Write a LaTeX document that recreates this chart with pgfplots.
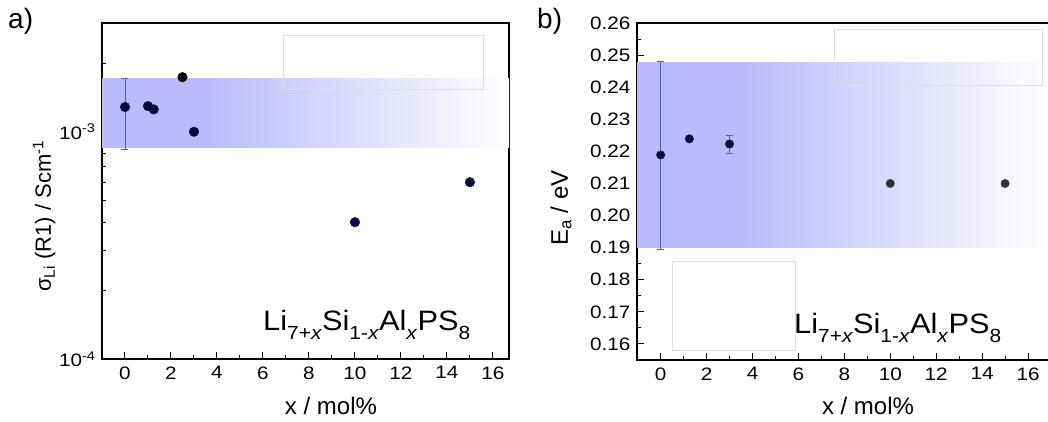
\documentclass[border=0pt]{standalone}
\usepackage{fontspec}
\setmainfont{Liberation Sans}
\newfontfamily\widefont{Liberation Sans}[FakeStretch=1.15]
\newfontfamily\compfont{Liberation Sans}[FakeStretch=1.1]
\usepackage{pgfplots}
\pgfplotsset{compat=1.18}
\definecolor{bandblue}{RGB}{186,186,252}
\definecolor{navy}{RGB}{8,8,60}
\definecolor{errc}{RGB}{90,90,170}
\definecolor{boxgray}{RGB}{222,222,222}
\definecolor{darkgray}{RGB}{50,50,62}
\pgfdeclarehorizontalshading{bandshade}{100bp}{color(0bp)=(bandblue); color(25bp)=(bandblue); color(37bp)=(bandblue); color(75bp)=(white); color(100bp)=(white)}
\newcommand\sub[1]{\raisebox{-9pt}{\fontsize{19}{19}\selectfont #1}}
\pgfplotsset{mystyle/.style={
  scale only axis,
  axis line style={line width=1.4pt},
  tick align=inside, tick pos=left,
  major tick length=7pt, minor tick length=4pt,
  every tick/.append style={black, line width=1pt},
  tick label style={font=\fontsize{18}{18}\widefont},
  /pgf/number format/assume math mode=true,
  xtick={0,2,...,16}, minor xtick={1,3,...,15},
  xticklabel style={yshift=-4pt},
  yticklabel style={xshift=-3pt},
}}
\begin{document}
\begin{tikzpicture}[x=1pt,y=1pt]
\useasboundingbox (0,0) rectangle (1048,-421);
\clip (0,0) rectangle (1048,-421);
% ---------------- panel a
\begin{axis}[mystyle, at={(102pt,-359pt)}, anchor=south west,
  width=407pt, height=336pt,
  xmin=-1, xmax=16.7,
  ymode=log, ymin=1e-4, ymax=3.01e-3,
  ytick={1e-4,1e-3}, yticklabels={10\textsuperscript{-4},10\textsuperscript{-3}},
  minor ytick={2e-4,3e-4,4e-4,5e-4,6e-4,7e-4,8e-4,9e-4,2e-3,3e-3}]
\addplot[draw=none, shading=bandshade] coordinates {(-1,8.56e-4) (16.7,8.56e-4) (16.7,1.714e-3) (-1,1.714e-3)} -- cycle;
\addplot[navy, only marks, mark=*, mark size=4.8pt,
  error bars/.cd, y dir=both, y explicit,
  error bar style={errc, line width=0.8pt},
  error mark options={errc, rotate=90, mark size=3.5pt, line width=0.8pt}]
  coordinates {(0,1.285e-3) += (0,0.435e-3) -= (0,0.445e-3)};
\addplot[navy, only marks, mark=*, mark size=4.8pt] coordinates {(1,1.297e-3) (1.25,1.254e-3) (3,1.0e-3) (10,4.0e-4) (15,6.0e-4)};
\addplot[black, only marks, mark=*, mark size=4.8pt] coordinates {(2.5,1.739e-3)};
\end{axis}
% ---------------- panel b
\begin{axis}[mystyle, at={(637pt,-360pt)}, anchor=south west,
  width=414pt, height=337pt,
  xmin=-1.03, xmax=17,
  ymin=0.155, ymax=0.26,
  ytick={0.16,0.17,...,0.26}, minor ytick={0.165,0.175,...,0.255},
  yticklabel style={/pgf/number format/.cd, fixed, fixed zerofill, precision=2}]
\addplot[draw=none, shading=bandshade] coordinates {(-1.03,0.19) (17,0.19) (17,0.2476) (-1.03,0.2476)} -- cycle;
\addplot[navy, only marks, mark=*, mark size=4.2pt,
  error bars/.cd, y dir=both, y explicit,
  error bar style={errc, line width=0.8pt},
  error mark options={errc, rotate=90, mark size=3.5pt, line width=0.8pt}]
  coordinates {(0,0.2189) += (0,0.0291) -= (0,0.0293) (3,0.2223) += (0,0.0028) -= (0,0.0028)};
\addplot[navy, only marks, mark=*, mark size=4.2pt] coordinates {(1.25,0.2239)};
\addplot[darkgray, only marks, mark=*, mark size=4.2pt] coordinates {(10,0.21) (15,0.21)};
\end{axis}
% empty frames
\draw[boxgray, line width=0.6pt] (283.7,-35.3) rectangle (483.7,-89);
\draw[boxgray, line width=0.6pt] (834,-29.3) rectangle (1042.7,-85);
\draw[boxgray, line width=0.6pt] (672,-261.7) rectangle (795.7,-350);
% texts
\node[anchor=base west, inner sep=0pt, font=\fontsize{28}{28}\compfont] at (263,-330) {Li\sub{7+\textit{x}}Si\sub{1-\textit{x}}Al\sub{\textit{x}}PS\sub{8}};
\node[anchor=base west, inner sep=0pt, font=\fontsize{28}{28}\compfont] at (794,-333) {Li\sub{7+\textit{x}}Si\sub{1-\textit{x}}Al\sub{\textit{x}}PS\sub{8}};
\node[anchor=base, inner sep=0pt, font=\fontsize{24}{24}\selectfont] at (331,-414) {x / mol\%};
\node[anchor=base, inner sep=0pt, font=\fontsize{24}{24}\selectfont] at (868,-414) {x / mol\%};
\node[rotate=90, inner sep=0pt, font=\fontsize{22}{22}\selectfont] at (44,-216) {σ\textsubscript{Li} (R1) / Scm\textsuperscript{-1}};
\node[rotate=90, inner sep=0pt, font=\fontsize{24}{24}\selectfont] at (561,-208) {E\textsubscript{a} / eV};
\node[anchor=base west, inner sep=0pt, font=\fontsize{28}{28}\selectfont] at (8,-28) {a)};
\node[anchor=base west, inner sep=0pt, font=\fontsize{28}{28}\selectfont] at (537,-28) {b)};
\end{tikzpicture}
\end{document}
